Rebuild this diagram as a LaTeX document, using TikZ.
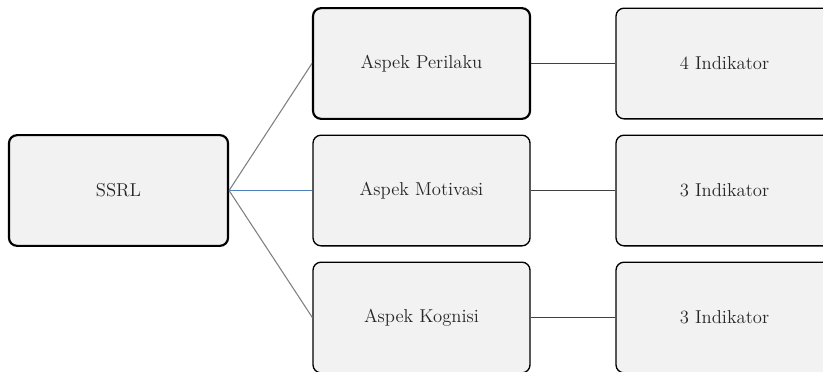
\documentclass[tikz,border=0pt]{standalone}
\usepackage{tikz}

\definecolor{boxfill}{HTML}{F2F2F2}
\definecolor{linkgray}{HTML}{7F7F7F}
\definecolor{linkdark}{HTML}{404040}
\definecolor{linkblue}{HTML}{4F81BD}

\begin{document}
\begin{tikzpicture}[
                x=0.75pt, y=-0.75pt,
                font=\fontsize{14}{17}\selectfont,
                aspect/.style={rectangle, rounded corners=6pt, draw=black, fill=boxfill,
                    line width=1pt, minimum width=162.75pt, minimum height=83pt, text=black!85},
                bold/.style={line width=1.6pt},
                every edge/.style={draw, line width=0.8pt}
                ]
            \useasboundingbox (0,0) rectangle (823,371);
            \clip (0,0) rectangle (823,371);
            % Nodes
            \node[aspect, bold, minimum width=164.25pt] (ssrl) at (118.5,190.5) {SSRL};
            \node[aspect, bold] (perilaku) at (421.5,63.5) {Aspek Perilaku};
            \node[aspect] (motivasi) at (421.5,190.5) {Aspek Motivasi};
            \node[aspect] (kognisi) at (421.5,317.5) {Aspek Kognisi};
            \node[aspect] (ind4) at (724.5,63.5) {4 Indikator};
            \node[aspect] (ind3a) at (724.5,190.5) {3 Indikator};
            \node[aspect] (ind3b) at (724.5,317.5) {3 Indikator};
            % Edges
            \path
            (ssrl.east) edge[linkgray] (perilaku.west)
            (ssrl.east) edge[linkblue] (motivasi.west)
            (ssrl.east) edge[linkgray] (kognisi.west)
            (perilaku) edge[linkdark] (ind4)
            (motivasi) edge[linkdark] (ind3a)
            (kognisi) edge[linkdark] (ind3b);

            \end{tikzpicture}
\end{document}
